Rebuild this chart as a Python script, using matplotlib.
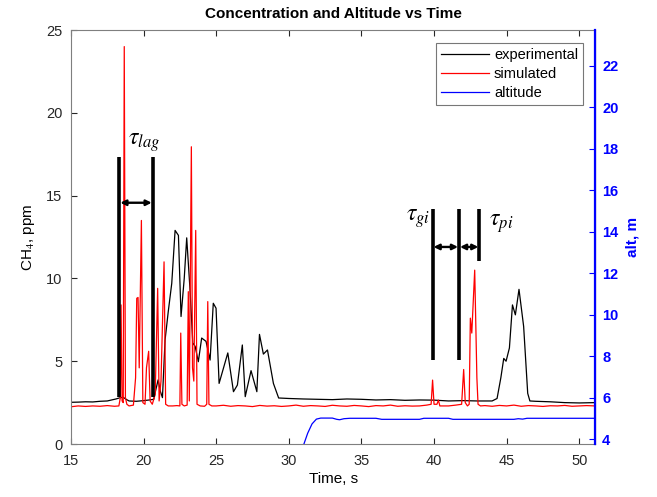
import matplotlib
matplotlib.use("Agg")
import matplotlib.pyplot as plt

# ── Style ────────────────────────────────────────────────────────────────────
plt.rcParams.update({
    "font.family":      ["Liberation Sans", "DejaVu Sans"],
    "font.size":        10,
    "mathtext.fontset": "stix",
    "xtick.direction":  "in",
    "ytick.direction":  "in",
})
AX_GRAY = "#262626"

# ── Data ─────────────────────────────────────────────────────────────────────
t_exp = [15.0, 15.5, 16.0, 16.5, 17.0, 17.5, 17.8, 18.1, 18.4, 18.6, 18.8, 19.0,
         19.5, 20.0, 20.4, 20.7, 20.85, 21.0, 21.15, 21.3, 21.48, 21.7, 21.94,
         22.17, 22.4, 22.58, 22.8, 22.97, 23.2, 23.39, 23.55, 23.77, 24.0, 24.3,
         24.58, 24.8, 24.99, 25.2, 25.8, 26.19, 26.46, 26.8, 27.0, 27.4, 27.8,
         27.98, 28.25, 28.53, 28.94, 29.3, 30.0, 31.0, 32.0, 33.0, 34.0, 35.0,
         36.0, 37.0, 38.0, 39.0, 40.0, 41.0, 42.0, 43.0, 44.0, 44.34, 44.6, 44.8,
         44.96, 45.19, 45.4, 45.6, 45.85, 46.17, 46.45, 46.6, 47.0, 48.0, 49.0,
         50.0, 51.1]
y_exp = [2.52, 2.53, 2.55, 2.54, 2.58, 2.6, 2.66, 2.72, 2.8, 2.82, 2.7, 2.6,
         2.58, 2.62, 2.66, 2.7, 3.3, 3.87, 3.2, 2.8, 6.28, 8.0, 9.7,
         12.9, 12.6, 7.7, 10.0, 12.45, 9.3, 6.1, 5.9, 4.97, 6.4, 6.2,
         5.07, 8.5, 8.2, 3.66, 5.5, 3.16, 3.56, 5.98, 2.86, 4.43, 3.16,
         6.62, 5.43, 5.68, 3.66, 2.78, 2.75, 2.72, 2.7, 2.68, 2.72, 2.7,
         2.66, 2.68, 2.64, 2.66, 2.65, 2.6, 2.62, 2.6, 2.6, 2.75, 4.0, 5.17,
         5.0, 5.8, 8.4, 7.8, 9.34, 7.1, 3.06, 2.6, 2.58, 2.55, 2.5,
         2.48, 2.5]

t_sim = [15.0, 15.5, 16.0, 16.5, 17.0, 17.5, 18.0, 18.3, 18.4, 18.45, 18.52,
         18.6, 18.67, 18.75, 18.85, 19.0, 19.3, 19.45, 19.53, 19.62, 19.7, 19.85,
         19.95, 20.1, 20.2, 20.35, 20.45, 20.6, 20.8, 20.97, 21.07, 21.2, 21.41,
         21.52, 21.7, 22.0, 22.3, 22.5, 22.56, 22.64, 22.8, 23.0, 23.08, 23.15,
         23.29, 23.37, 23.46, 23.59, 23.68, 23.9, 24.2, 24.35, 24.42, 24.5, 24.7,
         25.0, 25.5, 26.0, 26.5, 27.0, 27.5, 28.0, 28.5, 29.0, 29.5, 30.0, 30.5,
         31.0, 31.5, 32.0, 32.5, 33.0, 33.5, 34.0, 34.5, 35.0, 35.5, 36.0, 36.5,
         37.0, 37.5, 38.0, 38.5, 39.0, 39.5, 39.8, 39.9, 40.0, 40.2, 40.3, 40.4,
         41.0, 41.5, 41.9, 42.04, 42.15, 42.3, 42.42, 42.5, 42.6, 42.8, 42.95,
         43.03, 43.2, 43.5, 44.0, 44.5, 45.0, 45.5, 46.0, 46.5, 47.0, 47.5, 48.0,
         48.5, 49.0, 49.5, 50.0, 50.5, 51.1]
y_sim = [2.25, 2.3, 2.27, 2.3, 2.28, 2.32, 2.28, 2.3, 2.8, 8.4, 2.6,
         2.5, 24.0, 2.8, 2.4, 2.3, 2.35, 4.0, 8.8, 8.85, 4.6, 13.5,
         2.5, 2.4, 4.6, 5.6, 2.6, 2.4, 3.0, 9.4, 2.6, 3.8, 11.0,
         2.4, 2.3, 2.3, 2.32, 2.3, 6.7, 2.4, 2.3, 2.35, 9.2, 2.6,
         17.95, 4.6, 3.8, 12.9, 2.4, 2.3, 2.28, 2.4, 8.6, 2.4, 2.3,
         2.3, 2.34, 2.28, 2.32, 2.3, 2.26, 2.33, 2.29, 2.31, 2.27, 2.3, 2.35,
         2.28, 2.32, 2.3, 2.27, 2.34, 2.3, 2.28, 2.33, 2.3, 2.26, 2.32, 2.3,
         2.35, 2.28, 2.31, 2.29, 2.3, 2.35, 2.4, 3.86, 2.4, 2.4, 2.65, 2.3,
         2.3, 2.35, 2.4, 4.5, 2.5, 2.3, 2.4, 7.6, 6.7, 10.5, 4.0,
         2.4, 2.3, 2.32, 2.28, 2.33, 2.3, 2.35, 2.28, 2.32, 2.3, 2.27, 2.31,
         2.3, 2.33, 2.28, 2.3, 2.32, 2.3]

t_alt = [31.0, 31.3, 31.6, 31.9, 32.2, 33.0, 33.3, 33.5, 33.8, 34.2, 36.0, 36.4,
         39.0, 39.3, 41.0, 41.3, 45.5, 45.8, 46.1, 46.4, 51.1]
alt   = [3.7, 4.3, 4.75, 4.98, 5.03, 5.03, 4.97, 4.95, 5.0, 5.02, 5.02, 4.97,
         4.97, 5.02, 5.02, 4.97, 4.97, 5.0, 4.98, 5.02, 5.02]

# delay markers: (time, bottom, top)
lag_lines = [(18.33, 2.86, 17.35), (20.63, 2.86, 17.35)]
gi_lines  = [(39.9, 5.07, 14.17), (41.72, 5.07, 14.17), (43.12, 11.05, 14.17)]

# ── Figure ───────────────────────────────────────────────────────────────────
fig = plt.figure(figsize=(6.57, 4.97), dpi=100)
ax = fig.add_axes([0.108, 0.1066, 0.798, 0.833])
ax2 = ax.twinx()

h1, = ax.plot(t_exp, y_exp, color="black", lw=0.9, label="experimental")
h2, = ax.plot(t_sim, y_sim, color="red", lw=0.9, label="simulated")
h3, = ax2.plot(t_alt, alt, color="blue", lw=0.9, label="altitude")

for x, y0, y1 in lag_lines + gi_lines:
    ax.plot([x, x], [y0, y1], color="black", lw=2.6, solid_capstyle="butt")

arrow_kw = dict(arrowstyle="<|-|>", color="black", lw=1.7,
                mutation_scale=8, shrinkA=0, shrinkB=0)
ax.annotate("", xy=(18.4, 14.57), xytext=(20.56, 14.57), arrowprops=arrow_kw)
ax.annotate("", xy=(39.97, 11.9), xytext=(41.65, 11.9), arrowprops=arrow_kw)
ax.annotate("", xy=(41.79, 11.9), xytext=(43.05, 11.9), arrowprops=arrow_kw)

ax.text(18.9, 18.2, r"$\tau_{lag}$", fontsize=17, va="center", ha="left")
ax.text(39.75, 13.6, r"$\tau_{gi}$", fontsize=17, va="center", ha="right")
ax.text(43.8, 13.3, r"$\tau_{pi}$", fontsize=17, va="center", ha="left")

ax.set_xlim(15, 51.1)
ax.set_ylim(0, 25)
ax.set_xticks(range(15, 51, 5))
ax.set_yticks(range(0, 26, 5))
ax2.set_ylim(3.78, 23.73)
ax2.set_yticks(range(4, 23, 2))

ax.set_title("Concentration and Altitude vs Time", fontsize=11, fontweight="bold", pad=9)
ax.set_xlabel("Time, s", fontsize=11, labelpad=3)
ax.set_ylabel("CH$_4$, ppm", fontsize=11, labelpad=7)
ax2.set_ylabel("alt, m", fontsize=11, color="blue", fontweight="bold", labelpad=5)

ax.tick_params(top=True, length=4, colors=AX_GRAY, labelsize=10.5)
ax.tick_params(axis="x", pad=7)
ax.tick_params(axis="y", right=False, pad=6)
ax2.tick_params(axis="y", colors="blue", length=4, labelsize=10.5, pad=5)
for lbl in ax2.get_yticklabels():
    lbl.set_fontweight("bold")

for s in ["left", "top", "bottom"]:
    ax.spines[s].set_color("#7f7f7f")
ax2.spines["right"].set_color("blue")
ax2.spines["right"].set_linewidth(1.6)
for s in ["left", "top", "bottom"]:
    ax2.spines[s].set_visible(False)

leg = ax.legend([h1, h2, h3], ["experimental", "simulated", "altitude"],
                loc="upper right", bbox_to_anchor=(0.977, 0.968), fontsize=10.5,
                frameon=True, fancybox=False, edgecolor="#555555",
                handlelength=3.3, borderpad=0.35, labelspacing=0.32,
                handletextpad=0.35, borderaxespad=0.0)
leg.get_frame().set_linewidth(0.8)

fig.savefig("out.png", dpi=100)
